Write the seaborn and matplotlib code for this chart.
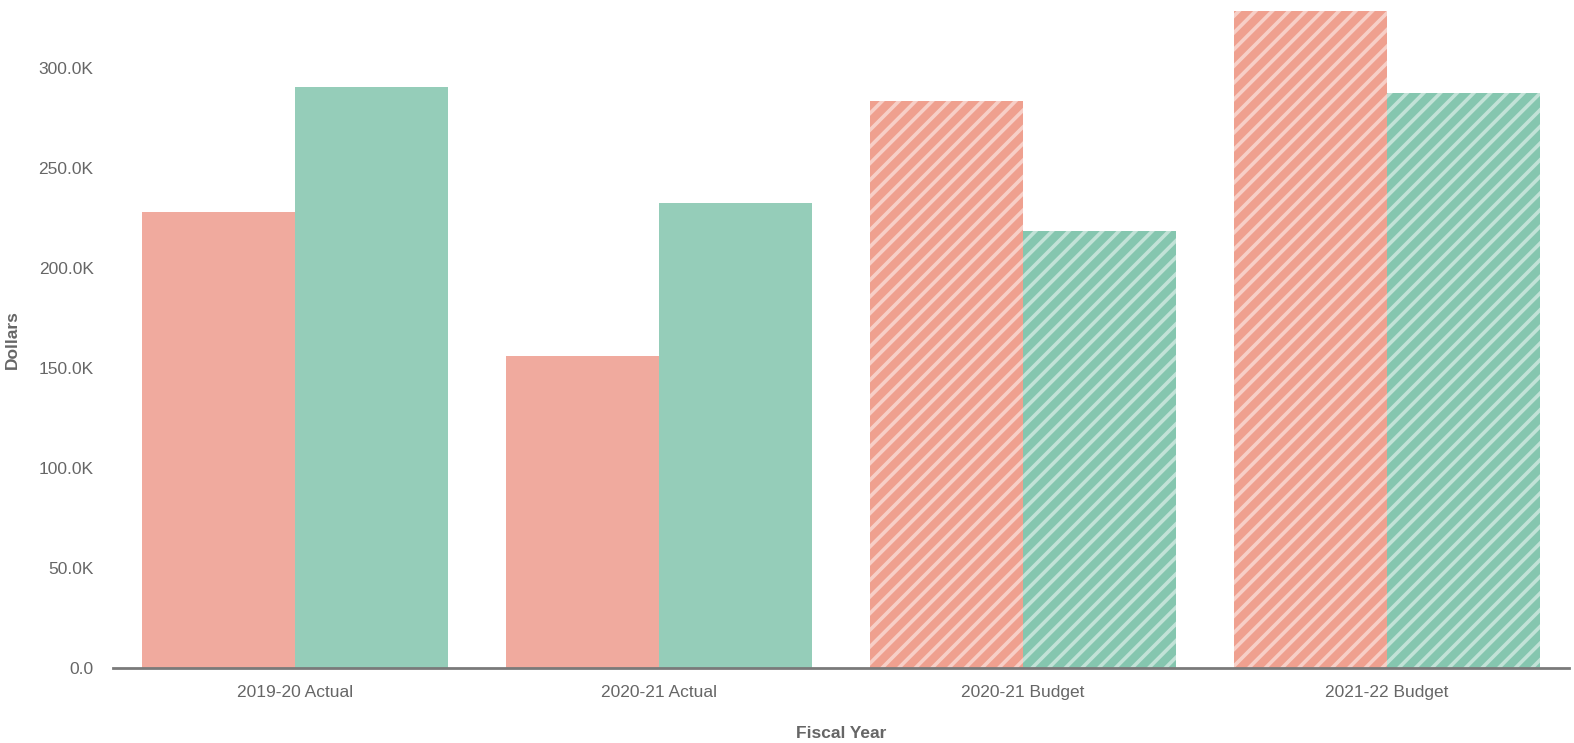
import pandas as pd
import matplotlib.pyplot as plt
import seaborn as sns
from matplotlib.ticker import FuncFormatter

# values, in thousands of dollars
years = ["2019-20 Actual", "2020-21 Actual", "2020-21 Budget", "2021-22 Budget"]
series_a = [227.8, 156.0, 283.5, 328.2]
series_b = [290.5, 232.3, 218.3, 287.5]
series_names = ["Revenues", "Expenditures"]
budget_years = ["2020-21 Budget", "2021-22 Budget"]

df = pd.DataFrame({
    "year": years * 2,
    "series": [series_names[0]] * len(years) + [series_names[1]] * len(years),
    "dollars": series_a + series_b,
})

sns.set_theme(style="white")
plt.rcParams["font.family"] = ["Liberation Sans", "DejaVu Sans"]
plt.rcParams["hatch.linewidth"] = 2.6

fig = plt.figure(figsize=(15.74, 7.43), dpi=100)
ax = fig.add_axes([0.0718, 0.101, 0.9250, 0.884])

palette = {series_names[0]: "#F0AA9E", series_names[1]: "#95CDB9"}
sns.barplot(data=df, x="year", y="dollars", hue="series", order=years,
            hue_order=series_names, palette=palette, width=0.84,
            saturation=1, legend=False, linewidth=0, ax=ax)

# budget bars get a diagonal white stripe pattern
hatched_base = {0: "#EFA08F", 1: "#85C6AF"}
for i, cont in enumerate(ax.containers):
    for year, bar in zip(years, cont):
        bar.set_edgecolor("white")
        bar.set_linewidth(0)
        if year in budget_years:
            bar.set_facecolor(hatched_base[i])
            bar.set_edgecolor((1, 1, 1, 0.5))
            bar.set_hatch("//")

ax.set_xlim(-0.5, 3.5)
ax.set_ylim(0, 328.2)
ax.set_yticks([0, 50, 100, 150, 200, 250, 300])
ax.yaxis.set_major_formatter(FuncFormatter(lambda v, p: f"{v:.1f}K" if v else "0.0"))

sns.despine(ax=ax, left=True, top=True, right=True)
ax.spines["bottom"].set_color("#7a7a7a")
ax.spines["bottom"].set_linewidth(2)
ax.tick_params(axis="both", length=0, labelsize=12.5, colors="#666666")
ax.tick_params(axis="y", pad=14)
ax.tick_params(axis="x", pad=12)

ax.set_xlabel("Fiscal Year", fontsize=12.5, fontweight="bold", color="#666666")
ax.xaxis.set_label_coords(0.5, -0.088)
ax.set_ylabel("Dollars", fontsize=12.5, fontweight="bold", color="#666666")
ax.yaxis.set_label_coords(-0.064, 0.5)
ax.grid(False)

fig.savefig("out.png", dpi=100)
